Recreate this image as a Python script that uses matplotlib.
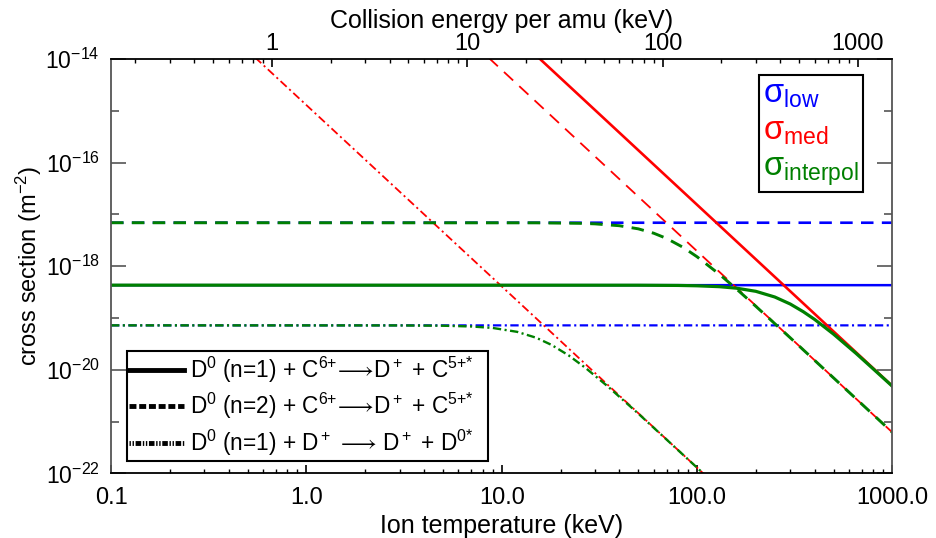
import matplotlib
matplotlib.use('Agg')
import matplotlib.pyplot as plt
from matplotlib.lines import Line2D
from matplotlib.patches import Rectangle
from matplotlib.ticker import FixedLocator, FixedFormatter, NullFormatter

plt.rcParams['font.family'] = ['Liberation Sans', 'DejaVu Sans']
plt.rcParams['mathtext.fontset'] = 'custom'
plt.rcParams['mathtext.rm'] = 'Liberation Sans'
plt.rcParams['mathtext.it'] = 'Liberation Sans:italic'
plt.rcParams['mathtext.bf'] = 'Liberation Sans:bold'
plt.rcParams['mathtext.sf'] = 'Liberation Sans'
plt.rcParams['lines.scale_dashes'] = False

# ---------------- data ----------------
T_range = [0.1, 1000.0]                 # ion temperature (keV)
E_per_T = 1.5                           # collision energy per amu / ion temperature

# sigma_low : constant
low_n1 = [4.3e-19, 4.3e-19]
low_n2 = [6.9e-18, 6.9e-18]
low_dd = [7.2e-20, 7.2e-20]

# sigma_med : straight lines in log-log
med_n1_T = [10.0, 1000.0]
med_n1 = [4.85e-14, 4.85e-21]
med_n2_T = [5.0, 1000.0]
med_n2 = [6.97e-14, 6.17e-22]
med_dd_T = [0.3, 150.0]
med_dd = [8.71e-14, 3.12e-23]

# sigma_interpol
int_n1_T = [0.1, 50, 80, 100, 130, 160, 200, 250, 300, 350, 400, 500, 650, 800, 1000]
int_n1 = [4.30e-19, 4.29e-19, 4.25e-19, 4.18e-19, 4.02e-19, 3.75e-19, 3.27e-19,
          2.54e-19, 1.86e-19, 1.32e-19, 9.37e-20, 4.87e-20, 2.09e-20, 1.03e-20,
          4.80e-21]
int_n2_T = [0.1, 15, 25, 30, 40, 50, 60, 70, 85, 100, 130, 160, 200, 300, 500, 1000]
int_n2 = [6.90e-18, 6.87e-18, 6.72e-18, 6.56e-18, 6.04e-18, 5.26e-18, 4.33e-18,
          3.42e-18, 2.30e-18, 1.52e-18, 7.00e-19, 3.57e-19, 1.68e-19, 4.15e-20,
          6.97e-21, 6.17e-22]
int_dd_T = [0.1, 3, 5, 7, 9, 12, 15, 18, 22, 27, 35, 50, 70, 100, 150]
int_dd = [7.20e-20, 7.18e-20, 7.09e-20, 6.85e-20, 6.42e-20, 5.40e-20, 4.16e-20,
          3.02e-20, 1.90e-20, 1.07e-20, 4.74e-21, 1.43e-21, 4.46e-22, 1.29e-22,
          3.11e-23]

x_major = [0.1, 1.0, 10.0, 100.0, 1000.0]
x_major_labels = ['0.1', '1.0', '10.0', '100.0', '1000.0']
top_major = [1, 10, 100, 1000]
top_major_labels = ['1', '10', '100', '1000']
y_major = [1e-22, 1e-20, 1e-18, 1e-16, 1e-14]
y_major_labels = [r'$10^{-22}$', r'$10^{-20}$', r'$10^{-18}$', r'$10^{-16}$', r'$10^{-14}$']
y_minor = [1e-21, 1e-19, 1e-17, 1e-15]

legend_reactions = [
    r'D$^0$ (n=1) + C$^{6{+}}$$\!\longrightarrow\!$D$^+$ + C$^{5{+}{*}}$',
    r'D$^0$ (n=2) + C$^{6{+}}$$\!\longrightarrow\!$D$^+$ + C$^{5{+}{*}}$',
    r'D$^0$ (n=1) + D$^+$ $\!\longrightarrow\!$ D$^+$ + D$^{0{*}}$',
]
legend_sigma = [r'σ$_{\rm low}$', r'σ$_{\rm med}$', r'σ$_{\rm interpol}$']

# ---------------- styles ----------------
BLUE, RED, GREEN = '#0000ff', '#ff0000', '#008000'
DASH = (0, (9, 6))
DASHDOT = (0, (6, 2.5, 1.5, 2.5))

fig = plt.figure(figsize=(9.36, 5.38), dpi=100)
ax = fig.add_axes([0.1186, 0.1201, 0.8348, 0.7703])
ax.set_xscale('log')
ax.set_yscale('log')

# sigma_low
ax.plot(T_range, low_n1, color=BLUE, lw=1.8, ls='-', snap=False)
ax.plot(T_range, low_n2, color=BLUE, lw=1.9, ls=DASH, snap=False)
ax.plot(T_range, low_dd, color=BLUE, lw=1.6, ls=DASHDOT, snap=False)
# sigma_med
ax.plot(med_n1_T, med_n1, color=RED, lw=1.9, ls='-', snap=False)
ax.plot(med_n2_T, med_n2, color=RED, lw=1.3, ls=DASH, snap=False)
ax.plot(med_dd_T, med_dd, color=RED, lw=1.3, ls=DASHDOT, snap=False)
# sigma_interpol
ax.plot(int_n1_T, int_n1, color=GREEN, lw=2.3, ls='-', snap=False)
ax.plot(int_n2_T, int_n2, color=GREEN, lw=2.1, ls=DASH, snap=False)
ax.plot(int_dd_T, int_dd, color=GREEN, lw=1.7, ls=DASHDOT, snap=False)

ax.set_xlim(0.1, 1000)
ax.set_ylim(1e-22, 1e-14)

# ticks
ax.xaxis.set_major_locator(FixedLocator(x_major))
ax.xaxis.set_major_formatter(FixedFormatter(x_major_labels))
ax.xaxis.set_minor_formatter(NullFormatter())
ax.yaxis.set_major_locator(FixedLocator(y_major))
ax.yaxis.set_major_formatter(FixedFormatter(y_major_labels))
ax.yaxis.set_minor_locator(FixedLocator(y_minor))
ax.yaxis.set_minor_formatter(NullFormatter())
ax.tick_params(axis='x', which='both', direction='in', top=False, labelsize=17, pad=10)
ax.tick_params(axis='x', which='major', length=6, width=1.2)
ax.tick_params(axis='x', which='minor', length=3, width=1.0)
ax.tick_params(axis='y', which='both', direction='in', left=True, right=True,
               labelsize=16.5, pad=8, color='#555555')
ax.tick_params(axis='y', which='major', length=11, width=1.2)
ax.tick_params(axis='y', which='minor', length=6, width=1.2)
for s in ['left', 'right']:
    ax.spines[s].set_color('#555555')
    ax.spines[s].set_linewidth(1.3)
for s in ['top', 'bottom']:
    ax.spines[s].set_color('black')
    ax.spines[s].set_linewidth(1.3)

ax.set_xlabel('Ion temperature (keV)', fontsize=18)
ax.xaxis.set_label_coords(0.5, -0.098)
ax.set_ylabel(r'cross section (m$^{-2}$)', fontsize=17)
ax.yaxis.set_label_coords(-0.086, 0.5)

# top axis: collision energy per amu
ax2 = ax.twiny()
ax2.set_xscale('log')
ax2.set_xlim(T_range[0] * E_per_T, T_range[1] * E_per_T)
ax2.xaxis.set_major_locator(FixedLocator(top_major))
ax2.xaxis.set_major_formatter(FixedFormatter(top_major_labels))
ax2.xaxis.set_minor_formatter(NullFormatter())
ax2.tick_params(axis='x', which='both', direction='in', labelsize=17, pad=3)
ax2.tick_params(axis='x', which='major', length=6, width=1.2)
ax2.tick_params(axis='x', which='minor', length=3, width=1.0)
ax2.set_xlabel('Collision energy per amu (keV)', fontsize=18)
ax2.xaxis.set_label_coords(0.5, 1.074)
for s in ax2.spines.values():
    s.set_visible(False)

# legend: reactions (frame drawn as a rectangle)
frame1 = Rectangle((0.0205, 0.0287), 0.462, 0.2667, transform=ax.transAxes,
                   facecolor='white', edgecolor='black', lw=1.5, zorder=4.9)
ax.add_patch(frame1)
h_react = [Line2D([], [], color='black', lw=3.5, ls='-'),
           Line2D([], [], color='black', lw=3.5, ls=(0, (5, 2))),
           Line2D([], [], color='black', lw=3.5, ls=(0, (1, 1.2, 1, 1.2, 4, 1.2)))]
leg1 = ax.legend(h_react, legend_reactions, loc='center left',
                 bbox_to_anchor=(0.0205, 0.162), borderaxespad=0,
                 fontsize=16.3, handlelength=2.4, handletextpad=0.3,
                 labelspacing=0.27, borderpad=0.1, frameon=False)
leg1.set_zorder(5)
ax.add_artist(leg1)

# legend: sigma colours
h_sig = [Line2D([], [], ls='none') for _ in legend_sigma]
leg2 = ax.legend(h_sig, legend_sigma, loc='upper right',
                 bbox_to_anchor=(0.9624, 0.9614), borderaxespad=0,
                 fontsize=23.5, handlelength=0, handletextpad=0,
                 labelspacing=0.15, borderpad=0.12, fancybox=False,
                 framealpha=1, edgecolor='black',
                 labelcolor=[BLUE, RED, GREEN])
leg2.get_frame().set_linewidth(1.5)

fig.savefig('out.png', dpi=100)
